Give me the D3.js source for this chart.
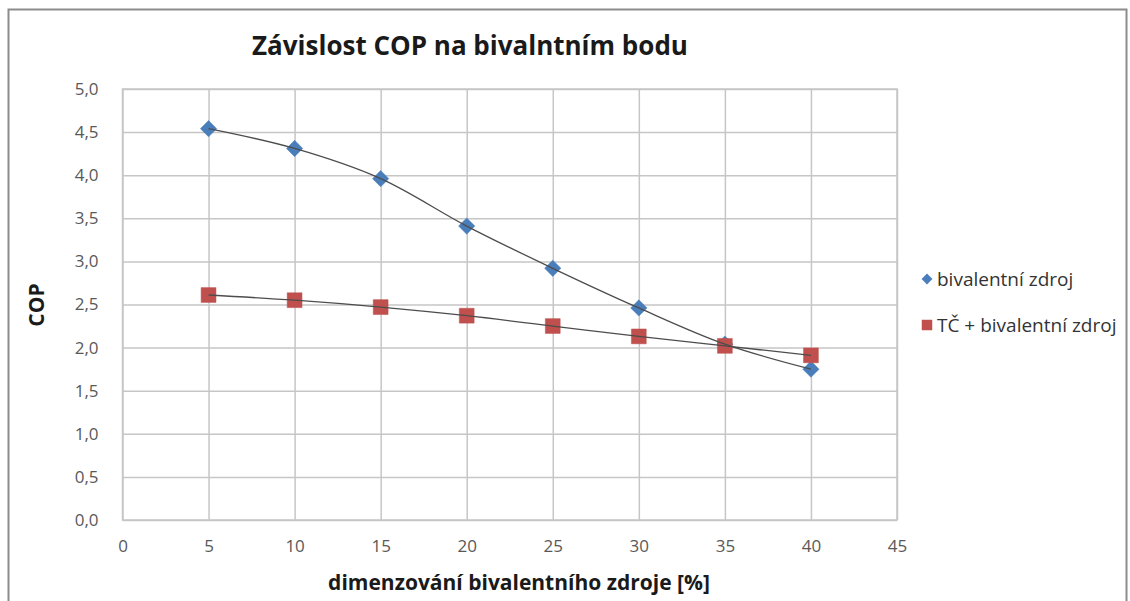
<!DOCTYPE html>
<html>
<head>
<meta charset="utf-8">
<script src="https://cdn.jsdelivr.net/npm/d3@7"></script>
<style>
  html, body { margin: 0; padding: 0; background: #fff; }
  svg { display: block; }
</style>
</head>
<body>
<svg id="chart" width="1130" height="601"></svg>
<script>
// Dimensioning of the bivalent source [%]
const dimensioning = [5, 10, 15, 20, 25, 30, 35, 40];
// COP of the bivalent source alone
const copBivalent = [4.54, 4.31, 3.96, 3.41, 2.92, 2.46, 2.04, 1.75];
// COP of heat pump + bivalent source
const copCombined = [2.61, 2.55, 2.47, 2.37, 2.25, 2.13, 2.02, 1.91];

const seriesNames = ["bivalentní zdroj", "TČ + bivalentní zdroj"];
const xTicks = [0, 5, 10, 15, 20, 25, 30, 35, 40, 45];
const yTicks = [0, 0.5, 1, 1.5, 2, 2.5, 3, 3.5, 4, 4.5, 5];

const title = "Závislost COP na bivalntním bodu";
const xTitle = "dimenzování bivalentního zdroje [%]";
const yTitle = "COP";

const blue = "#4a7ebb";
const red = "#c0504d";
const gridColor = "#c6c6c6";
const textColor = "#595959";
const font = "'Open Sans', 'Noto Sans', sans-serif";

const svg = d3.select("#chart");
const plot = { left: 122.5, right: 897, top: 89, bottom: 520 };

const x = d3.scaleLinear().domain([0, 45]).range([plot.left, plot.right]);
const y = d3.scaleLinear().domain([0, 5]).range([plot.bottom, plot.top]);
const czFormat = d3.formatLocale({ decimal: ",", thousands: " ", grouping: [3], currency: ["", " Kč"] });
const yFmt = czFormat.format(".1f");

// Outer chart frame
svg.append("rect")
  .attr("x", 8.5).attr("y", 9.5)
  .attr("width", 1118).attr("height", 610)
  .attr("fill", "#fff")
  .attr("stroke", "#8c8c8c")
  .attr("stroke-width", 2);

// Gridlines
const xAxisGrid = d3.axisBottom(x).tickValues(xTicks).tickSize(-(plot.bottom - plot.top)).tickFormat("");
const yAxisGrid = d3.axisLeft(y).tickValues(yTicks).tickSize(-(plot.right - plot.left)).tickFormat("");

svg.append("g")
  .attr("transform", `translate(0,${plot.bottom})`)
  .call(xAxisGrid)
  .call(g => g.select(".domain").remove())
  .call(g => g.selectAll("line").attr("stroke", gridColor).attr("stroke-width", 1.5));

svg.append("g")
  .attr("transform", `translate(${plot.left},0)`)
  .call(yAxisGrid)
  .call(g => g.select(".domain").remove())
  .call(g => g.selectAll("line").attr("stroke", gridColor).attr("stroke-width", 1.5));

// Plot area border
svg.append("rect")
  .attr("x", plot.left).attr("y", plot.top)
  .attr("width", plot.right - plot.left).attr("height", plot.bottom - plot.top)
  .attr("fill", "none").attr("stroke", gridColor).attr("stroke-width", 1.5);

// Tick labels
const xAxis = d3.axisBottom(x).tickValues(xTicks).tickSize(0).tickPadding(20);
svg.append("g")
  .attr("transform", `translate(0,${plot.bottom})`)
  .call(xAxis)
  .call(g => g.select(".domain").remove())
  .call(g => g.selectAll("text")
    .attr("fill", textColor).attr("font-family", font).attr("font-size", 17));

const yAxis = d3.axisLeft(y).tickValues(yTicks).tickSize(0).tickPadding(24).tickFormat(yFmt);
svg.append("g")
  .attr("transform", `translate(${plot.left},0)`)
  .call(yAxis)
  .call(g => g.select(".domain").remove())
  .call(g => g.selectAll("text")
    .attr("fill", textColor).attr("font-family", font).attr("font-size", 17));

// Titles
svg.append("text")
  .attr("x", 470).attr("y", 55)
  .attr("text-anchor", "middle")
  .attr("font-family", font).attr("font-weight", "bold").attr("font-size", 26)
  .attr("fill", "#1a1a1a")
  .text(title);

svg.append("text")
  .attr("x", 519).attr("y", 590)
  .attr("text-anchor", "middle")
  .attr("font-family", font).attr("font-weight", "bold").attr("font-size", 21)
  .attr("fill", "#1a1a1a")
  .text(xTitle);

svg.append("text")
  .attr("transform", "translate(44,305) rotate(-90)")
  .attr("text-anchor", "middle")
  .attr("font-family", font).attr("font-weight", "bold").attr("font-size", 21)
  .attr("fill", "#1a1a1a")
  .text(yTitle);

// Series
const series = [
  { name: seriesNames[0], values: copBivalent, color: blue, symbol: d3.symbolDiamond2, size: 170 },
  { name: seriesNames[1], values: copCombined, color: red, symbol: d3.symbolSquare, size: 220 }
];

const line = d3.line()
  .x(d => x(d[0]))
  .y(d => y(d[1]))
  .curve(d3.curveCatmullRom.alpha(0.5));

series.forEach(s => {
  const pts = dimensioning.map((v, i) => [v, s.values[i]]);
  svg.append("g")
    .selectAll("path")
    .data(pts)
    .join("path")
    .attr("transform", d => `translate(${x(d[0])},${y(d[1])})`)
    .attr("d", d3.symbol().type(s.symbol).size(s.size))
    .attr("fill", s.color)
    .attr("stroke", s.color)
    .attr("stroke-opacity", 0.5)
    .attr("stroke-width", 1);
});

series.forEach(s => {
  const pts = dimensioning.map((v, i) => [v, s.values[i]]);
  svg.append("path")
    .datum(pts)
    .attr("fill", "none")
    .attr("stroke", "#4d4d4d")
    .attr("stroke-width", 1.3)
    .attr("d", line);
});

// Legend
const legend = svg.append("g");
const legendY = [279, 325];
series.forEach((s, i) => {
  legend.append("path")
    .attr("transform", `translate(927,${legendY[i]})`)
    .attr("d", d3.symbol().type(s.symbol).size(i === 0 ? 75 : 110))
    .attr("fill", s.color);
  legend.append("text")
    .attr("x", 937).attr("y", legendY[i])
    .attr("dy", "0.35em")
    .attr("font-family", font).attr("font-size", 19)
    .attr("fill", "#333")
    .text(s.name);
});
</script>
</body>
</html>
